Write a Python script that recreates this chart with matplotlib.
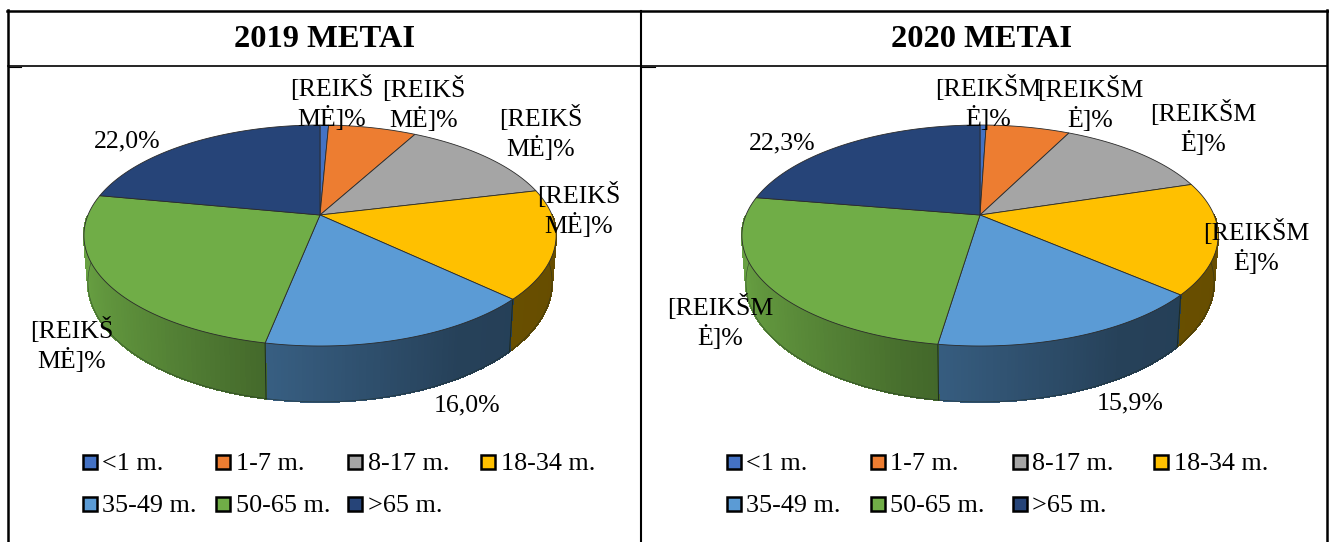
"""
plot.py

Two perspective 3D pies side by side in a table frame (age groups, 2019 / 2020).
"""

import matplotlib
matplotlib.use("Agg")
import matplotlib.pyplot as plt
import numpy as np
from matplotlib.collections import PolyCollection
from matplotlib.patches import Polygon, Rectangle

plt.rcParams["font.family"] = ["Liberation Serif", "DejaVu Serif"]

categories = ["<1 m.", "1-7 m.", "8-17 m.", "18-34 m.", "35-49 m.", "50-65 m.", ">65 m."]
values_2019 = [0.7, 7.2, 13.3, 15.9, 16.0, 24.9, 22.0]
values_2020 = [0.5, 6.8, 12.8, 16.3, 15.9, 25.3, 22.3]
labels_2019 = ["[REIKŠ\nMĖ]%", "[REIKŠ\nMĖ]%", "[REIKŠ\nMĖ]%", "[REIKŠ\nMĖ]%", "16,0%", "[REIKŠ\nMĖ]%", "22,0%"]
labels_2020 = ["[REIKŠM\nĖ]%", "[REIKŠM\nĖ]%", "[REIKŠM\nĖ]%", "[REIKŠM\nĖ]%", "15,9%", "[REIKŠM\nĖ]%", "22,3%"]
titles = ["2019 METAI", "2020 METAI"]

colors = ["#4472C4", "#ED7D31", "#A5A5A5", "#FFC000", "#5B9BD5", "#70AD47", "#264478"]

# label centres in figure pixels
label_pos_2019 = [(332, 103), (424, 104), (541, 133), (579, 210), (467, 405), (72, 345), (127, 141)]
label_pos_2020 = [(988, 103), (1090, 104), (1203, 128), (1256, 247), (1130, 403), (720, 322), (782, 143)]

# shading of the side wall against horizontal position on the pie
wall_u = [-1.0, -0.22, 0.5, 1.0]
wall_shade = [0.93, 0.62, 0.42, 0.40]

PERSP = 0.1855
HALF_H = 106.7


def project(theta, cx, cy, half_w):
    u, v = np.sin(theta), np.cos(theta)
    w = 1 + PERSP * v
    return cx + half_w * u / w, cy - HALF_H * v / w


def lower_rim(x, y, cx, cy):
    dy = y - cy
    return cx + 0.983 * (x - cx), y + 45 + 0.083 * dy


def draw_pie(ax, values, labels, label_pos, cx, cy, half_w):
    fracs = np.array(values) / np.sum(values)
    edges = np.concatenate([[0], np.cumsum(fracs)]) * 2 * np.pi

    # side wall first, top slices cover whatever sticks out behind
    for i, col in enumerate(colors):
        th = np.linspace(edges[i], edges[i + 1], 80)
        th = th[np.cos(th) < 0.0]
        if len(th) < 2:
            continue
        x, y = project(th, cx, cy, half_w)
        xl, yl = lower_rim(x, y, cx, cy)
        quads = [[(x[j], y[j]), (x[j + 1], y[j + 1]), (xl[j + 1], yl[j + 1]), (xl[j], yl[j])]
                 for j in range(len(th) - 1)]
        shade = np.interp(np.sin(th[:-1]), wall_u, wall_shade)
        base = np.array(matplotlib.colors.to_rgb(col))
        face = [tuple(base * s) for s in shade]
        ax.add_collection(PolyCollection(quads, facecolors=face, edgecolors=face, linewidths=0.8,
                                         antialiaseds=False, zorder=2))
        ax.plot(xl, yl, color="#1c2a22", lw=0.5, alpha=0.6, zorder=3)

    for e in edges[1:-1]:
        if np.cos(e) < -0.3:
            x, y = project(e, cx, cy, half_w)
            xl, yl = lower_rim(x, y, cx, cy)
            ax.plot([x, xl], [y, yl], color="#1c2a22", lw=0.7, zorder=3)

    for i, col in enumerate(colors):
        th = np.linspace(edges[i], edges[i + 1], 120)
        x, y = project(th, cx, cy, half_w)
        pts = np.column_stack([np.r_[cx, x], np.r_[cy, y]])
        ax.add_patch(Polygon(pts, closed=True, facecolor=col, edgecolor="#2a2a2a", lw=0.6, zorder=4))

    for text, (tx, ty) in zip(labels, label_pos):
        ax.text(tx, ty, text, ha="center", va="center", fontsize=18.6, linespacing=1.25, color="black", zorder=6)


def draw_legend(ax, swatch_x, text_x):
    row_y = [462, 504]
    for i, (name, col) in enumerate(zip(categories, colors)):
        row = i // 4
        col_idx = i % 4
        ax.add_patch(Rectangle((swatch_x[col_idx] - 7, row_y[row] - 7), 14, 14, facecolor=col,
                               edgecolor="black", lw=1.8, zorder=5))
        ax.text(text_x[col_idx], row_y[row] + 1.5, name, ha="left", va="center", fontsize=18.8, color="black", zorder=6)


fig = plt.figure(figsize=(13.29, 5.42), dpi=100)
ax = fig.add_axes([0, 0, 1, 1])
ax.set_xlim(0, 1329)
ax.set_ylim(542, 0)
ax.axis("off")

# table frame
ax.plot([8, 8], [10, 542], color="black", lw=1.8)
ax.plot([1327, 1327], [10, 542], color="black", lw=1.8)
ax.plot([641, 641], [11, 542], color="black", lw=1.5)
ax.plot([7, 1328], [11, 11], color="black", lw=1.8)
ax.plot([8, 1327], [65.5, 65.5], color="black", lw=1.2)
ax.plot([8, 21], [66.5, 66.5], color="black", lw=0.8)
ax.plot([641, 655], [66.5, 66.5], color="black", lw=0.8)

ax.text(325, 39.5, titles[0], ha="center", va="center", fontsize=23.4, fontweight="bold", color="black")
ax.text(982, 39.5, titles[1], ha="center", va="center", fontsize=23.4, fontweight="bold", color="black")

draw_pie(ax, values_2019, labels_2019, label_pos_2019, 320, 215, 232)
draw_pie(ax, values_2020, labels_2020, label_pos_2020, 980, 215, 234)

draw_legend(ax, [90, 223, 355, 488], [102, 236, 368, 501])
draw_legend(ax, [734, 877.5, 1020, 1161], [746, 890, 1032, 1174])

fig.savefig("out.png", dpi=100)
plt.close(fig)
